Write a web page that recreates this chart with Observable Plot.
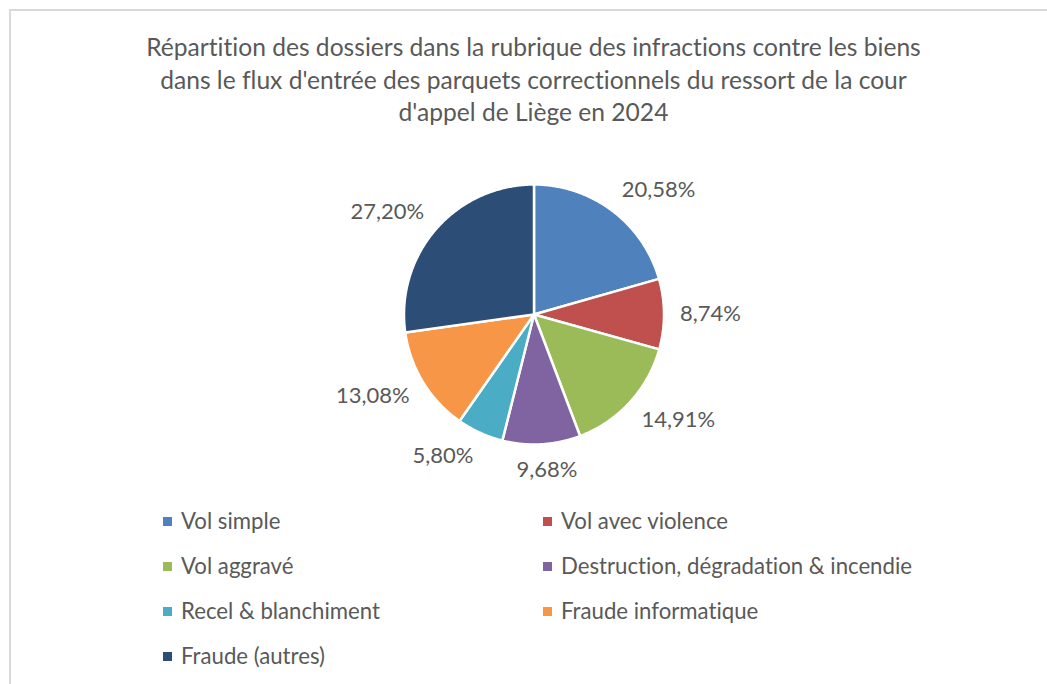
<!DOCTYPE html>
<html><head><meta charset="utf-8">
<script src="https://cdn.jsdelivr.net/npm/d3@7"></script>
<script src="https://cdn.jsdelivr.net/npm/@observablehq/plot@0.6"></script>
<style>
body{margin:0;background:#fff;width:1047px;height:684px;overflow:hidden;position:relative;font-family:Lato,"Open Sans",sans-serif;color:#595959;font-variant-ligatures:none}
#frame{position:absolute;left:9px;top:9px;width:1070px;height:700px;border:2px solid #d9d9d9;box-sizing:border-box}
#title{position:absolute;left:0;width:1067px;top:31px;text-align:center;font-size:24.6px;line-height:32.5px}
#chart{position:absolute;left:0;top:144px}
.item{position:absolute;display:flex;align-items:center;font-size:22.2px;line-height:26px;white-space:nowrap}
.sw{width:9px;height:9px;margin-right:9px;flex:none}
</style></head>
<body>
<div id="frame"></div>
<div id="title">Répartition des dossiers dans la rubrique des infractions contre les biens<br>dans le flux d'entrée des parquets correctionnels du ressort de la cour<br>d'appel de Liège en 2024</div>
<div id="chart"></div>
<div id="legend"></div>
<script>
const categories = ["Vol simple","Vol avec violence","Vol aggravé","Destruction, dégradation & incendie","Recel & blanchiment","Fraude informatique","Fraude (autres)"];
const shares = [20.58, 8.74, 14.91, 9.68, 5.80, 13.08, 27.20];
const colors = ["#4F81BD","#C0504D","#9BBB59","#8064A2","#4BACC6","#F79646","#2C4D75"];

const W = 1047, H = 340, cx = 533.5, cy = 170, R = 130;
const arcs = d3.pie().sort(null).value(d => d)(shares);

const pts = [];
arcs.forEach((a, i) => {
  const name = categories[i];
  pts.push({name, x: 0, y: 0});
  const n = Math.max(2, Math.ceil((a.endAngle - a.startAngle) / (Math.PI / 360)));
  for (let k = 0; k <= n; k++) {
    const t = a.startAngle + (a.endAngle - a.startAngle) * k / n;
    pts.push({name, x: Math.sin(t), y: Math.cos(t)});
  }
});

const fmt = v => v.toFixed(2).replace(".", ",") + "%";
const labels = arcs.map((a, i) => {
  const m = (a.startAngle + a.endAngle) / 2;
  const s = Math.sin(m), c = Math.cos(m);
  const text = fmt(shares[i]);
  const hw = text.length * 6.1, hh = 10, gap = 16;
  const px = (R + gap) * s + Math.sign(s) * hw * Math.min(1, Math.abs(s) * 2.5);
  const py = (R + gap) * c + c * hh;
  return {text, x: px / R, y: py / R};
});

const chart = Plot.plot({
  width: W, height: H, margin: 0,
  style: {fontFamily: "Lato, 'Open Sans', sans-serif", background: "transparent"},
  x: {domain: [-cx / R, (W - cx) / R], range: [0, W], axis: null},
  y: {domain: [cy / R, (cy - H) / R], range: [0, H], axis: null},
  color: {domain: categories, range: colors},
  marks: [
    Plot.line(pts, {x: "x", y: "y", z: "name", fill: "name", stroke: "white", strokeWidth: 2.5, strokeLinejoin: "round", curve: "linear-closed"}),
    Plot.text(labels, {x: "x", y: "y", text: "text", fontSize: 22, fill: "#595959"})
  ]
});
document.getElementById("chart").appendChild(chart);

const legend = document.getElementById("legend");
categories.forEach((name, i) => {
  const col = i % 2, row = Math.floor(i / 2);
  const el = document.createElement("div");
  el.className = "item";
  el.style.left = (col ? 543 : 163) + "px";
  el.style.top = (521 + row * 45 - 13) + "px";
  el.innerHTML = `<span class="sw" style="background:${colors[i]}"></span><span>${name}</span>`;
  legend.appendChild(el);
});
</script>
</body></html>
